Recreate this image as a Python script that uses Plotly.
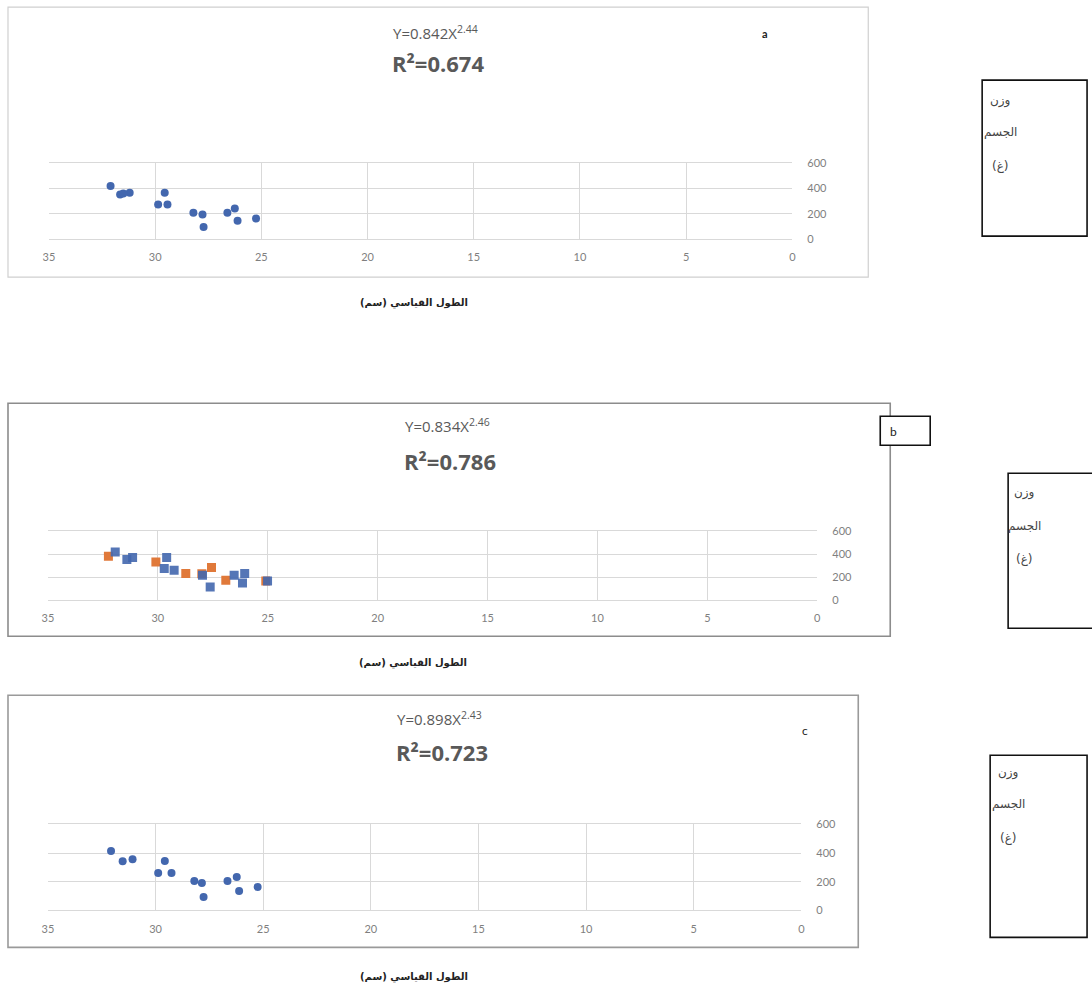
import plotly.graph_objects as go

W, H = 1092, 992

# ---------------- data ----------------
a_len = [32.1, 31.65, 31.2, 31.5, 29.55, 29.86, 29.42, 28.2, 27.77, 27.72, 26.6, 26.25, 26.12, 25.25]
a_wt = [419, 353, 366, 360, 366, 274, 274, 208, 195, 97, 208, 243, 145, 163]

b_blue_len = [31.94, 31.41, 31.15, 29.6, 29.71, 29.26, 27.97, 27.62, 26.53, 26.05, 26.15, 25.01]
b_blue_wt = [420, 354, 371, 371, 276, 261, 217, 116, 217, 232, 151, 168]
b_orange_len = [32.25, 30.09, 28.73, 27.56, 26.91, 25.09, 28.0]
b_orange_wt = [383, 333, 232, 284, 174, 168, 230]

c_len = [32.07, 31.53, 31.07, 29.57, 29.88, 29.26, 28.2, 27.85, 27.77, 26.66, 26.23, 26.12, 25.26]
c_wt = [414, 342, 356, 344, 260, 260, 205, 191, 93, 205, 233, 135, 163]

x_ticks = [35, 30, 25, 20, 15, 10, 5, 0]
y_ticks = [0, 200, 400, 600]

equations = ["Y=0.842X<sup>2.44</sup>", "Y=0.834X<sup>2.46</sup>", "Y=0.898X<sup>2.43</sup>"]
r2_texts = ["R²=0.674", "R²=0.786", "R²=0.723"]
panel_labels = ["a", "b", "c"]
x_title = "الطول القياسي (سم)"
y_title_lines = ["وزن", "الجسم", "(غ)"]

BLUE = "#4367AE"
ORANGE = "#E0793A"
GRID = "#D9D9D9"
TXT = "#595959"

# small correction for how the page ends up photographed
SX, OX = 0.9917, 5.0
SY, OY = 0.9866, 6.9


def px(x):
    return ((x - OX) / SX) / W


def py(y):
    return 1 - ((y - OY) / SY) / H


# plot areas in pixel coords (left, right, top, bottom)
plot_boxes = [(48, 792, 163, 239), (47, 817, 531, 600), (47, 801, 824, 910)]
frames = [(7, 868, 7, 277, "#D0D0D0", 1.2), (7, 890, 403, 636, "#8C8C8C", 1.6), (7, 858, 695, 947, "#9A9A9A", 1.6)]
eq_pos = [(435, 32, 63), (447, 425, 461), (439, 718, 752)]
title_pos = [(413, 303), (412, 663), (413, 977)]
side_boxes = [(982, 1087, 80, 236), (1008, 1100, 473, 628), (990, 1087, 755, 937)]
side_text_y = [(100, 132, 166), (492, 526, 559), (772, 804, 838)]
side_text_x = [1000, 1024, 1008]


def ann(x, y, text, **font):
    return dict(x=px(x), y=py(y), xref="paper", yref="paper", text=text, showarrow=False,
                xanchor="center", yanchor="middle", font=font)


fig = go.Figure()

fig.add_trace(go.Scatter(x=a_len, y=a_wt, mode="markers", xaxis="x", yaxis="y",
                         marker=dict(symbol="circle", size=8, color=BLUE), showlegend=False))
fig.add_trace(go.Scatter(x=b_orange_len, y=b_orange_wt, mode="markers", xaxis="x2", yaxis="y2",
                         marker=dict(symbol="square", size=9, color=ORANGE), showlegend=False))
fig.add_trace(go.Scatter(x=b_blue_len, y=b_blue_wt, mode="markers", xaxis="x2", yaxis="y2",
                         marker=dict(symbol="square", size=9, color=BLUE, opacity=0.9), showlegend=False))
fig.add_trace(go.Scatter(x=c_len, y=c_wt, mode="markers", xaxis="x3", yaxis="y3",
                         marker=dict(symbol="circle", size=8, color=BLUE), showlegend=False))

layout = dict(width=W, height=H, margin=dict(l=0, r=0, t=0, b=0),
              paper_bgcolor="white", plot_bgcolor="white",
              font=dict(family="Lato, Open Sans, sans-serif", color=TXT))

shapes = []
annotations = []
for i, (l, r, t, b) in enumerate(plot_boxes):
    sfx = "" if i == 0 else str(i + 1)
    layout["xaxis" + sfx] = dict(domain=[px(l), px(r)], range=[35, 0], tickvals=x_ticks,
                                 anchor="y" + sfx, showgrid=True, gridcolor=GRID, zeroline=False,
                                 showline=True, mirror=True, linecolor=GRID, linewidth=1,
                                 ticks="", tickfont=dict(size=11, color="#7F7F7F"),
                                 ticklabelstandoff=8, fixedrange=True)
    layout["yaxis" + sfx] = dict(domain=[py(b), py(t)], range=[0, 600], tickvals=y_ticks,
                                 anchor="x" + sfx, side="right", showgrid=True, gridcolor=GRID,
                                 zeroline=False, showline=False, ticks="",
                                 tickfont=dict(size=11, color="#7F7F7F"),
                                 ticklabelstandoff=14, fixedrange=True)
    fl, fr, ft, fb, fc, fw = frames[i]
    shapes.append(dict(type="rect", xref="paper", yref="paper", x0=px(fl), x1=px(fr),
                       y0=py(fb), y1=py(ft), line=dict(color=fc, width=fw)))
    ex, ey, ry = eq_pos[i]
    annotations.append(ann(ex, ey, equations[i], size=15, color=TXT, family="Open Sans"))
    annotations.append(ann(ex + 2, ry, "<b>" + r2_texts[i] + "</b>", size=22, color=TXT, family="Open Sans"))
    tx, ty = title_pos[i]
    annotations.append(ann(tx, ty, "<b>" + x_title + "</b>", size=10, color="#222222", family="DejaVu Sans"))
    sl, sr, st, sb = side_boxes[i]
    shapes.append(dict(type="rect", xref="paper", yref="paper", x0=px(sl), x1=px(sr),
                       y0=py(sb), y1=py(st), line=dict(color="#111111", width=1.6)))
    for j, line in enumerate(y_title_lines):
        annotations.append(ann(side_text_x[i], side_text_y[i][j], line, size=12, color="#444444",
                               family="DejaVu Sans"))

# panel letters
annotations.append(ann(765, 33, "<b>a</b>", size=11, color="#222222"))
shapes.append(dict(type="rect", xref="paper", yref="paper", x0=px(880), x1=px(930),
                   y0=py(445), y1=py(416), line=dict(color="#111111", width=1.6),
                   fillcolor="white"))
annotations.append(ann(893, 431, "b", size=12, color="#222222"))
annotations.append(ann(805, 730, "c", size=12, color="#222222"))

layout["shapes"] = shapes
layout["annotations"] = annotations
fig.update_layout(**layout)

fig.write_html("out.html", config={"displayModeBar": False},
               post_script="document.body.style.margin='0';"
                           "document.documentElement.style.overflow='hidden';"
                           "document.body.style.overflow='hidden';")
